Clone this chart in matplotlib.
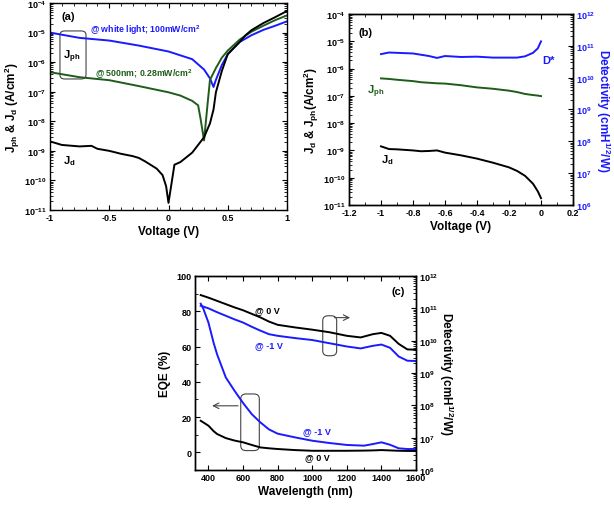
import matplotlib
matplotlib.use("Agg")
import matplotlib.pyplot as plt
from matplotlib.patches import FancyBboxPatch
from matplotlib.ticker import MultipleLocator, LogLocator, NullFormatter
import numpy as np

plt.rcParams['font.family'] = ['Liberation Sans', 'DejaVu Sans']
plt.rcParams['font.weight'] = 'bold'
plt.rcParams['mathtext.fontset'] = 'custom'
plt.rcParams['mathtext.rm'] = 'Liberation Sans:bold'
plt.rcParams['mathtext.it'] = 'Liberation Sans:bold'
plt.rcParams['mathtext.bf'] = 'Liberation Sans:bold'
plt.rcParams['mathtext.default'] = 'rm'
plt.rcParams['axes.linewidth'] = 1.0

BLUE = '#1a1aff'
GREEN = '#1f5c1a'

# ---- panel (a): J-V curves ----
va_white = [-1.0, -0.75, -0.5, -0.25, 0.0, 0.2, 0.3, 0.35, 0.38, 0.4, 0.45, 0.5, 0.6, 0.7, 0.8, 0.9, 1.0]
ja_white_log = [-5.0, -5.18, -5.27, -5.44, -5.64, -5.9, -6.25, -6.55, -6.84, -6.6, -6.1, -5.73, -5.32, -5.09, -4.91, -4.77, -4.62]

va_500 = [-1.0, -0.75, -0.5, -0.25, 0.0, 0.1, 0.2, 0.25, 0.27, 0.3, 0.33, 0.35, 0.4, 0.45, 0.5, 0.6, 0.7, 0.8, 0.9, 1.0]
ja_500_log = [-6.34, -6.51, -6.61, -6.81, -7.02, -7.13, -7.31, -7.46, -7.9, -8.65, -7.4, -6.6, -6.2, -5.85, -5.61, -5.24, -4.97, -4.77, -4.58, -4.42]

va_dark = [-1.0, -0.9, -0.75, -0.65, -0.6, -0.5, -0.4, -0.3, -0.25, -0.2, -0.1, -0.05, -0.02, 0.0,
           0.05, 0.1, 0.2, 0.3, 0.35, 0.38, 0.4, 0.45, 0.5, 0.6, 0.65, 0.7, 0.8, 0.9, 1.0]
ja_dark_log = [-8.68, -8.8, -8.85, -8.83, -8.93, -9.0, -9.1, -9.18, -9.24, -9.35, -9.6, -9.82, -10.2, -10.76,
               -9.47, -9.38, -9.06, -8.54, -8.07, -7.6, -7.02, -6.3, -5.73, -5.32, -5.09, -4.92, -4.68, -4.48, -4.27]

# ---- panel (b): reverse bias ----
vb = [-1.0, -0.95, -0.9, -0.8, -0.75, -0.7, -0.65, -0.6, -0.5, -0.4, -0.3, -0.2, -0.15, -0.1, -0.05, -0.02, 0.0]
db_log = [10.74, 10.79, 10.78, 10.76, 10.72, 10.68, 10.62, 10.68, 10.65, 10.66, 10.63, 10.63, 10.63, 10.67, 10.78, 10.92, 11.14]
jb_ph_log = [-6.36, -6.38, -6.41, -6.46, -6.5, -6.52, -6.54, -6.55, -6.61, -6.69, -6.74, -6.81, -6.86, -6.93, -6.97, -6.99, -7.01]
jb_d_log = [-8.85, -8.95, -8.96, -9.0, -9.03, -9.02, -9.0, -9.08, -9.18, -9.3, -9.45, -9.62, -9.75, -9.93, -10.22, -10.5, -10.75]

# ---- panel (c): spectra ----
wl = [355, 400, 450, 500, 550, 600, 650, 700, 750, 800, 900, 1000, 1100, 1200, 1280, 1350, 1400, 1450, 1500, 1550, 1600]
d0_log = [11.41, 11.33, 11.23, 11.13, 11.03, 10.94, 10.83, 10.72, 10.59, 10.49, 10.41, 10.34, 10.26, 10.15, 10.1, 10.2, 10.24, 10.15, 9.9, 9.73, 9.72]
dm1_log = [11.08, 11.0, 10.88, 10.77, 10.66, 10.56, 10.43, 10.31, 10.2, 10.15, 10.08, 10.02, 9.92, 9.82, 9.76, 9.84, 9.88, 9.78, 9.51, 9.38, 9.37]
wl_eqe = [355, 370, 400, 430, 450, 500, 550, 600, 650, 700, 750, 800, 900, 1000, 1100, 1200, 1300, 1350, 1400, 1450, 1500, 1550, 1600]
eqe_m1 = [84.3, 81.5, 73.5, 62.0, 55.5, 42.5, 35.0, 28.0, 21.7, 17.0, 13.0, 10.6, 8.5, 6.6, 5.3, 4.2, 3.8, 4.7, 5.7, 4.3, 2.3, 1.9, 1.9]
eqe_0 = [17.9, 17.0, 15.1, 12.0, 10.4, 8.1, 6.7, 5.7, 4.2, 2.8, 2.3, 1.9, 1.3, 0.9, 0.9, 0.9, 1.0, 1.1, 1.3, 1.1, 0.9, 0.8, 0.8]

fig = plt.figure(figsize=(6.14, 5.06), dpi=100)


def style_log(ax, lo, hi):
    ax.set_yscale('log')
    ax.set_ylim(10.0 ** lo, 10.0 ** hi)
    ax.yaxis.set_major_locator(LogLocator(base=10, numticks=20))
    ax.yaxis.set_minor_locator(LogLocator(base=10, subs=np.arange(2, 10), numticks=20))
    ax.yaxis.set_minor_formatter(NullFormatter())


def ticks(ax, **kw):
    ax.tick_params(which='both', direction='in', labelsize=6.5, pad=2.5, **kw)
    ax.tick_params(which='major', length=3.5, width=0.8)
    ax.tick_params(which='minor', length=2, width=0.6)
    for lab in ax.get_xticklabels() + ax.get_yticklabels():
        lab.set_fontweight('bold')


# ---------------- (a) ----------------
ax_a = fig.add_axes([50 / 614, 1 - 211 / 506, 237 / 614, 207 / 506])
ax_a.plot(va_white, 10.0 ** np.array(ja_white_log), color=BLUE, lw=1.4)
ax_a.plot(va_500, 10.0 ** np.array(ja_500_log), color=GREEN, lw=1.4)
ax_a.plot(va_dark, 10.0 ** np.array(ja_dark_log), color='black', lw=1.4)
style_log(ax_a, -11, -4)
ax_a.set_xlim(-1, 1)
ax_a.xaxis.set_minor_locator(MultipleLocator(0.1))
ax_a.set_xticks([-1, -0.5, 0, 0.5, 1])
ax_a.set_xticklabels(['-1', '-0.5', '0', '0.5', '1'])
ticks(ax_a, top=True, right=True)
ax_a.set_xlabel('Voltage (V)', fontsize=8.5, fontweight='bold', labelpad=2)
ax_a.set_ylabel('J$_{ph}$ & J$_d$ (A/cm$^2$)', fontsize=8.5, fontweight='bold', labelpad=1)
ax_a.text(-0.9, 10 ** -4.44, '(a)', fontsize=8, fontweight='bold', va='center')
ax_a.text(-0.66, 10 ** -4.87, '@ white light; 100mW/cm$^2$', color=BLUE, fontsize=6.3,
          fontweight='bold', va='center')
ax_a.text(-0.62, 10 ** -6.38, '@ 500nm; 0.28mW/cm$^2$', color=GREEN, fontsize=6.3,
          fontweight='bold', va='center')
ax_a.text(-0.89, 10 ** -5.8, 'J$_{ph}$', fontsize=8, fontweight='bold', va='center')
ax_a.text(-0.89, 10 ** -9.3, 'J$_d$', fontsize=8, fontweight='bold', va='center')
ax_a.add_patch(FancyBboxPatch((0.042, 0.633), 0.11, 0.232, transform=ax_a.transAxes,
                              boxstyle='round,pad=0,rounding_size=0.02', fill=False,
                              ec='#444444', lw=0.8))

# ---------------- (b) ----------------
ax_b = fig.add_axes([349 / 614, 1 - 206 / 506, 224 / 614, 191 / 506])
ax_b.plot(vb, 10.0 ** np.array(jb_ph_log), color=GREEN, lw=1.4)
ax_b.plot(vb, 10.0 ** np.array(jb_d_log), color='black', lw=1.4)
style_log(ax_b, -11, -4)
ax_b.set_xlim(-1.2, 0.2)
ax_b.xaxis.set_minor_locator(MultipleLocator(0.1))
ax_b.set_xticks([-1.2, -1, -0.8, -0.6, -0.4, -0.2, 0, 0.2])
ax_b.set_xticklabels(['-1.2', '-1', '-0.8', '-0.6', '-0.4', '-0.2', '0', '0.2'])
ticks(ax_b, top=True, right=False)
ax_b.set_xlabel('Voltage (V)', fontsize=8.5, fontweight='bold', labelpad=2)
ax_b.set_ylabel('J$_d$ & J$_{ph}$(A/cm$^2$)', fontsize=8.5, fontweight='bold', labelpad=1)
ax_b2 = ax_b.twinx()
ax_b2.plot(vb, 10.0 ** np.array(db_log), color=BLUE, lw=1.4)
style_log(ax_b2, 6, 12)
ticks(ax_b2, right=True, left=False, labelcolor=BLUE)
ax_b2.set_ylabel('Detectivity (cmH$^{1/2}$/W)', fontsize=8.5, fontweight='bold',
                 color=BLUE, rotation=270, labelpad=12)
ax_b.text(-1.14, 10 ** -4.66, '(b)', fontsize=8, fontweight='bold', va='center')
ax_b.text(0.005, 10 ** -5.7, 'D*', fontsize=8, fontweight='bold', color=BLUE, va='center')
ax_b.text(-1.09, 10 ** -6.8, 'J$_{ph}$', fontsize=8, fontweight='bold', color=GREEN, va='center')
ax_b.text(-1.0, 10 ** -9.3, 'J$_d$', fontsize=8, fontweight='bold', va='center')

# ---------------- (c) ----------------
ax_c = fig.add_axes([195 / 614, 1 - 471 / 506, 221 / 614, 194 / 506])
ax_c.plot(wl_eqe, eqe_m1, color=BLUE, lw=1.4)
ax_c.plot(wl_eqe, eqe_0, color='black', lw=1.4)
ax_c.set_xlim(322, 1600)
ax_c.set_ylim(-10, 100)
ax_c.xaxis.set_major_locator(MultipleLocator(200))
ax_c.xaxis.set_minor_locator(MultipleLocator(100))
ax_c.yaxis.set_major_locator(MultipleLocator(20))
ax_c.yaxis.set_minor_locator(MultipleLocator(10))
ticks(ax_c, top=True, right=False)
ax_c.set_xlabel('Wavelength (nm)', fontsize=8.5, fontweight='bold', labelpad=2)
ax_c.set_ylabel('EQE (%)', fontsize=8.5, fontweight='bold', labelpad=4)
ax_c2 = ax_c.twinx()
ax_c2.plot(wl, 10.0 ** np.array(d0_log), color='black', lw=1.4)
ax_c2.plot(wl, 10.0 ** np.array(dm1_log), color=BLUE, lw=1.4)
style_log(ax_c2, 6, 12)
ticks(ax_c2, right=True, left=False)
ax_c2.set_ylabel('Detectivity (cmH$^{1/2}$/W)', fontsize=8.5, fontweight='bold',
                 rotation=270, labelpad=12)
ax_c.text(1460, 91.5, '(c)', fontsize=8, fontweight='bold', va='center')
ax_c.text(670, 81, '@ 0 V', fontsize=6.5, fontweight='bold', va='center')
ax_c.text(670, 61.3, '@ -1 V', fontsize=6.5, fontweight='bold', color=BLUE, va='center')
ax_c.text(945, 12.3, '@ -1 V', fontsize=6.5, fontweight='bold', color=BLUE, va='center')
ax_c.text(960, -2.3, '@ 0 V', fontsize=6.5, fontweight='bold', va='center')
ax_c.add_patch(FancyBboxPatch((0.578, 0.589), 0.063, 0.206, transform=ax_c.transAxes,
                              boxstyle='round,pad=0,rounding_size=0.025', fill=False,
                              ec='#444444', lw=0.8))
ax_c.add_patch(FancyBboxPatch((0.207, 0.100), 0.084, 0.292, transform=ax_c.transAxes,
                              boxstyle='round,pad=0,rounding_size=0.025', fill=False,
                              ec='#444444', lw=0.8))
ax_c.annotate('', xy=(1235, 76.4), xytext=(1112, 76.4),
              arrowprops=dict(arrowstyle='->', color='#444444', lw=0.8))
ax_c.annotate('', xy=(405, 26.4), xytext=(587, 26.4),
              arrowprops=dict(arrowstyle='->', color='#444444', lw=0.8))

fig.savefig('out.png', dpi=100)
